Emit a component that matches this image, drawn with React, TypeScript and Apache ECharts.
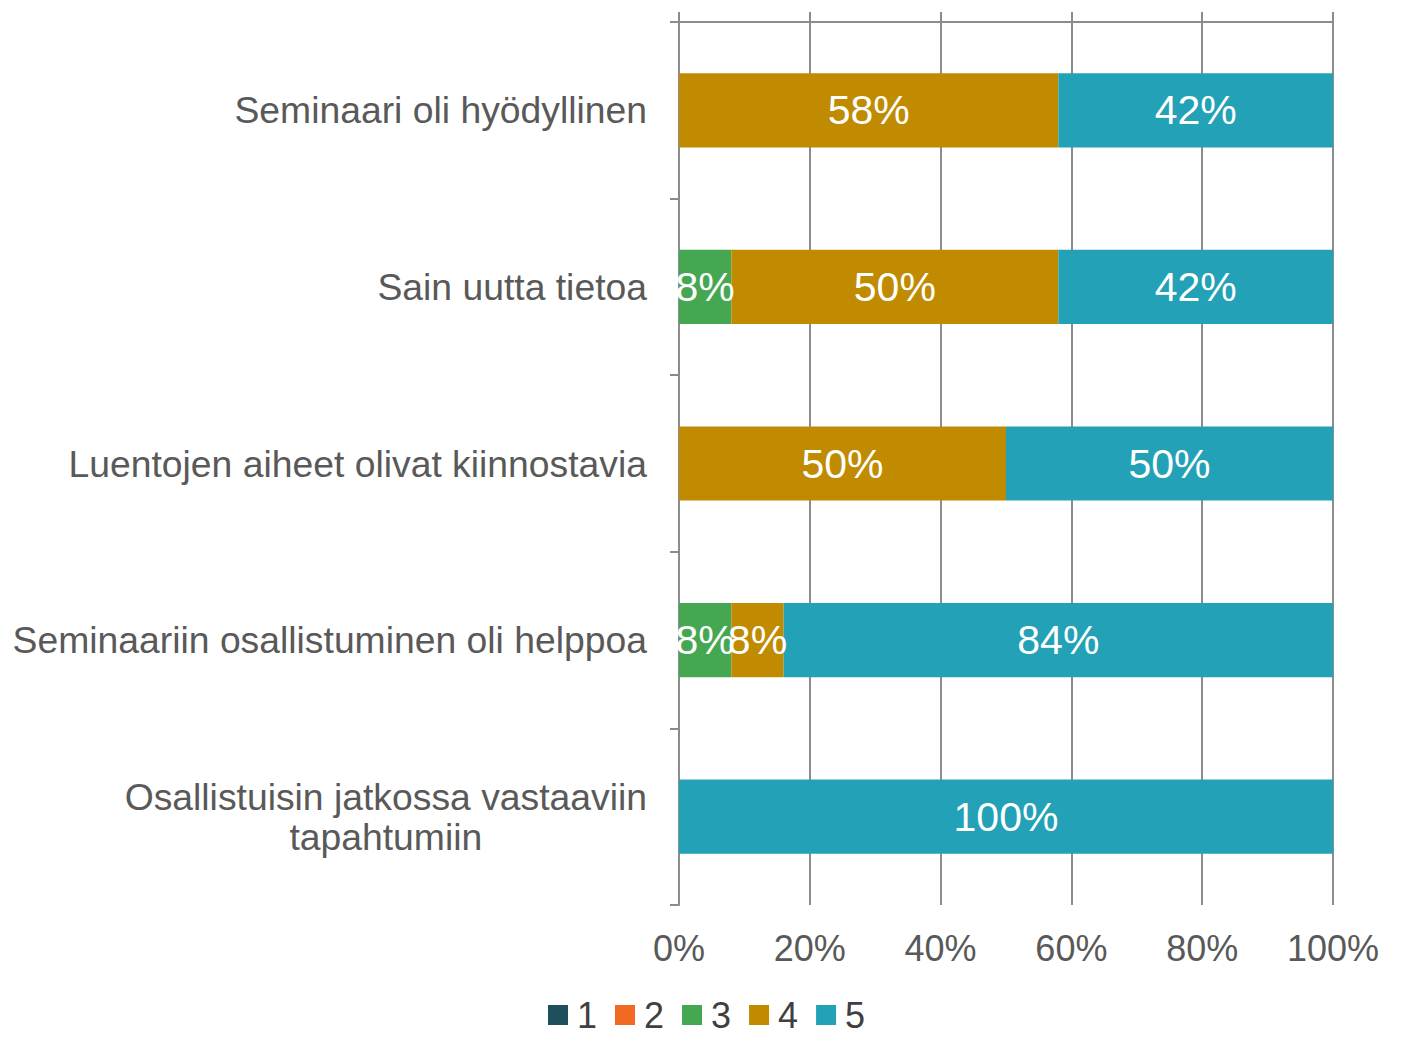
import React, { useEffect, useRef } from 'react';
import * as echarts from 'echarts';

const categories = [
  'Seminaari oli hyödyllinen',
  'Sain uutta tietoa',
  'Luentojen aiheet olivat kiinnostavia',
  'Seminaariin osallistuminen oli helppoa',
  'Osallistuisin jatkossa vastaaviin\ntapahtumiin',
];
const seriesNames = ['1', '2', '3', '4', '5'];
const s1 = [0, 0, 0, 0, 0];
const s2 = [0, 0, 0, 0, 0];
const s3 = [0, 8, 0, 8, 0];
const s4 = [58, 50, 50, 8, 0];
const s5 = [42, 42, 50, 84, 100];
const seriesValues = [s1, s2, s3, s4, s5];
const colors = ['#1f4e5c', '#f26a21', '#46a752', '#c08b00', '#22a1b7'];

const FONT = '"Liberation Sans", Arial, sans-serif';
const GRID_COLOR = '#8c8c8c';

export default function App() {
  const ref = useRef<HTMLDivElement>(null);
  useEffect(() => {
    document.body.style.margin = '0';
    const chart = echarts.init(ref.current!, null, { renderer: 'svg' });
    chart.setOption({
      animation: false,
      textStyle: { fontFamily: FONT },
      grid: { left: 679, right: 69, top: 22, bottom: 133, containLabel: false },
      legend: {
        data: seriesNames,
        top: 992,
        left: 543,
        icon: 'rect',
        itemWidth: 20,
        itemHeight: 20,
        itemGap: 18,
        textStyle: { fontSize: 36, color: '#404040', fontFamily: FONT, padding: [0, 0, 0, 4] },
      },
      xAxis: [
        {
          type: 'value',
          position: 'bottom',
          min: 0,
          max: 100,
          interval: 20,
          axisLine: { show: false },
          axisTick: { show: false },
          axisLabel: {
            formatter: '{value}%',
            fontSize: 36,
            color: '#595959',
            margin: 25,
            fontFamily: FONT,
          },
          splitLine: { show: true, lineStyle: { color: GRID_COLOR, width: 2 } },
        },
        {
          type: 'value',
          position: 'top',
          min: 0,
          max: 100,
          interval: 20,
          axisLine: { show: true, lineStyle: { color: GRID_COLOR, width: 2 } },
          axisTick: { show: true, length: 10, lineStyle: { color: GRID_COLOR, width: 2 } },
          axisLabel: { show: false },
          splitLine: { show: false },
        },
      ],
      yAxis: {
        type: 'category',
        data: categories,
        inverse: true,
        axisLine: { show: true, lineStyle: { color: GRID_COLOR, width: 2 } },
        axisTick: { show: true, length: 9, lineStyle: { color: GRID_COLOR, width: 2 } },
        axisLabel: {
          fontSize: 37.3,
          color: '#595959',
          margin: 32,
          fontFamily: FONT,
          lineHeight: 40,
          formatter: (v: string) =>
            v.includes('\n') ? v.split('\n').map((l) => `{c|${l}}`).join('\n') : v,
          rich: {
            c: { align: 'center', fontSize: 37.3, color: '#595959', lineHeight: 40, fontFamily: FONT },
          },
        },
      },
      series: seriesNames.map((name, i) => ({
        name,
        type: 'bar',
        stack: 'total',
        xAxisIndex: 0,
        barWidth: '42%',
        itemStyle: { color: colors[i] },
        label: {
          show: true,
          position: 'inside',
          color: '#ffffff',
          fontSize: 41,
          fontFamily: FONT,
          formatter: (p: any) => (p.value > 0 ? `${p.value}%` : ''),
        },
        data: seriesValues[i],
      })),
    });
    return () => chart.dispose();
  }, []);
  return <div ref={ref} style={{ width: 1402, height: 1038 }} />;
}
